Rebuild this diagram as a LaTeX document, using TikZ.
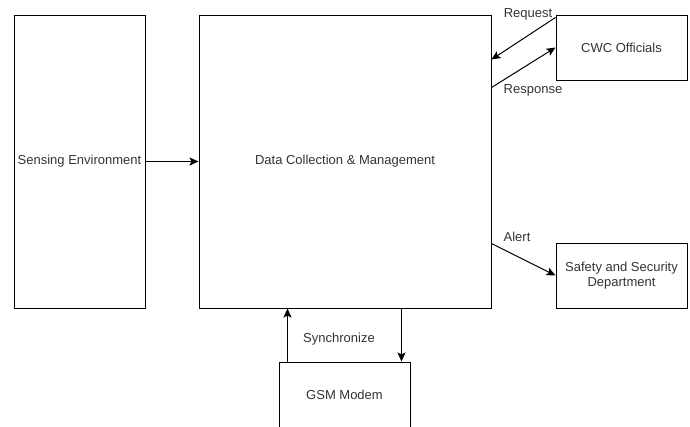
\documentclass[tikz,border=0pt]{standalone}
\usepackage{fontspec}
\setmainfont{Liberation Sans}
\usepackage{tikz}
\usetikzlibrary{arrows.meta}

\begin{document}
\begin{tikzpicture}[x=1pt,y=-1pt,line width=1pt,
  every node/.style={font=\fontsize{13pt}{15.5pt}\selectfont, text=black!80},
  block/.style={draw=black, inner sep=0pt, align=center},
  link/.style={-{Stealth[length=9pt,width=8pt,inset=2pt]}}]
\useasboundingbox (0,0) rectangle (690,426);
\clip (0,0) rectangle (690,426);

\node[block, minimum width=131, minimum height=293] (se) at (79.5,161.5) {Sensing Environment};
\node[block, minimum width=292, minimum height=293] (dcm) at (345,161.5) {Data Collection \& Management};
\node[block, minimum width=131, minimum height=65] (cwc) at (621.5,47.5) {CWC Officials};
\node[block, minimum width=131, minimum height=65] (ssd) at (621.5,275.5) {Safety and Security\\Department};
\node[block, minimum width=131, minimum height=65] (gsm) at (344.5,394.5) {GSM Modem};

\node (lreq) at (528,14) {Request};
\node (lres) at (533,90) {Response};
\node (lalert) at (517,237) {Alert};
\node (lsync) at (339,339) {Synchronize};

\path[draw,link] (se.east) -- (dcm.west);
\path[draw,link] ([yshift=-3pt]cwc.north west) -- ([yshift=-45pt]dcm.north east);
\path[draw,link] ([yshift=-73pt]dcm.north east) -- (cwc.west);
\path[draw,link] ([yshift=65pt]dcm.south east) -- (ssd.west);
\path[draw,link] ([xshift=9pt]gsm.north west) -- ([xshift=9pt]gsm.north west |- dcm.south);
\path[draw,link] ([xshift=-9pt]gsm.north east |- dcm.south) -- ([xshift=-9pt]gsm.north east);
\end{tikzpicture}
\end{document}
